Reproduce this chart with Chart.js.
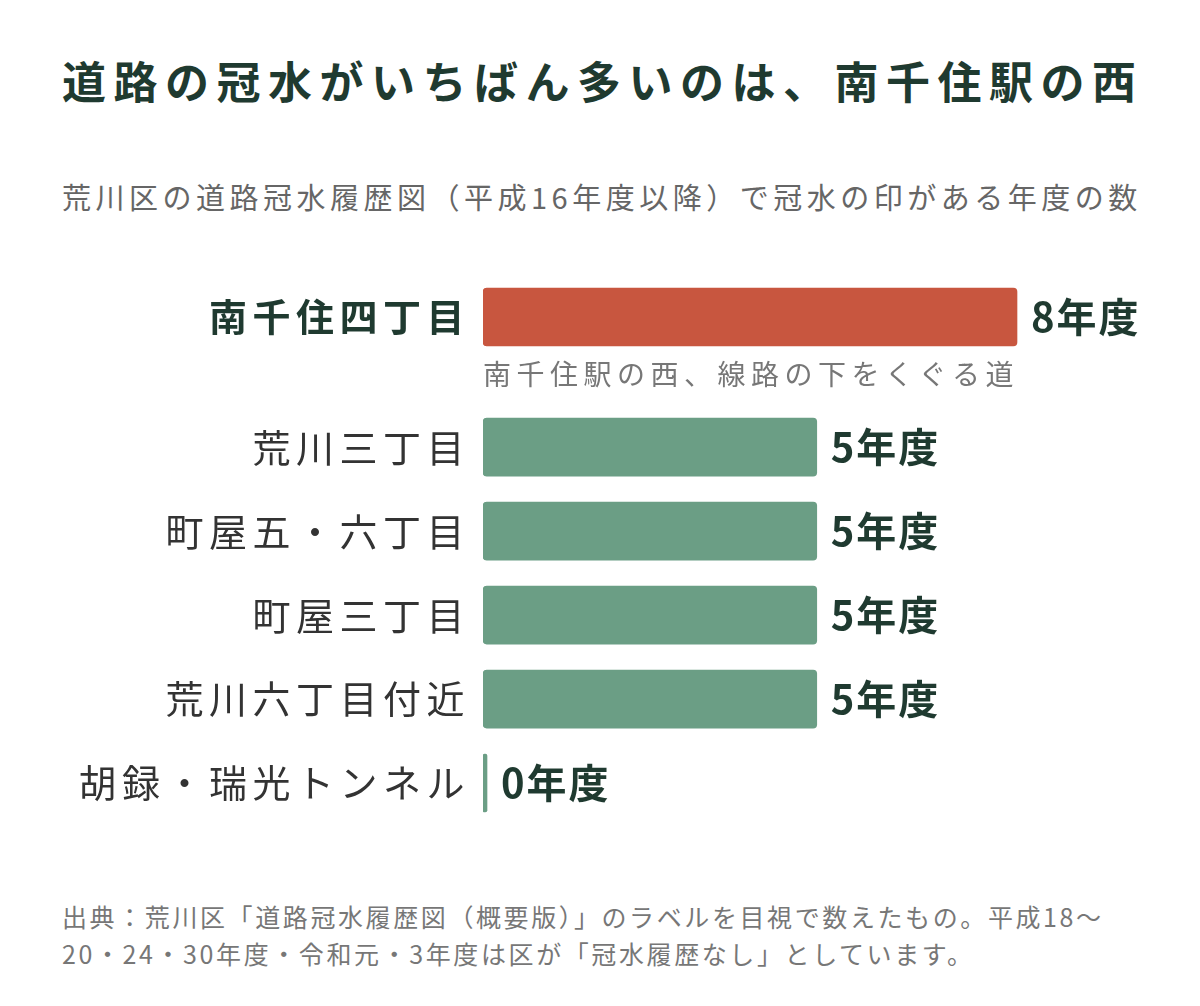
<!DOCTYPE html>
<html><head><meta charset="utf-8">
<script src="https://cdn.jsdelivr.net/npm/chart.js@4"></script>
<style>
body{margin:0;width:1200px;height:1006px;background:#fff;font-family:"Noto Sans CJK JP";position:relative;overflow:hidden}
#t{position:absolute;left:62px;top:50px;width:1100px;font-size:44px;letter-spacing:7.5px;font-weight:bold;line-height:61px;color:#1f3a30}
#s{position:absolute;left:62px;top:174px;width:1080px;font-size:29px;letter-spacing:4.5px;line-height:44px;color:#666}
#f{position:absolute;left:62px;top:898px;width:1100px;font-size:25px;letter-spacing:2.6px;line-height:37px;color:#777}
#c{position:absolute;left:0;top:275px}
</style></head><body>
<div id="t">道路の冠水がいちばん多いのは、南千住駅の西</div>
<div id="s">荒川区の道路冠水履歴図（平成16年度以降）で冠水の印がある年度の数</div>
<div id="f">出典：荒川区「道路冠水履歴図（概要版）」のラベルを目視で数えたもの。平成18〜20・24・30年度・令和元・3年度は区が「冠水履歴なし」としています。</div>
<canvas id="c" width="1200" height="550"></canvas>
<script>
const categories=["南千住四丁目","荒川三丁目","町屋五・六丁目","町屋三丁目","荒川六丁目付近","胡録・瑞光トンネル"];
const values=[8,5,5,5,5,0];
const notes=["南千住駅の西、線路の下をくぐる道","","","","","国の一覧にある南千住八丁目の2本"];
const highlight=[true,false,false,false,false,false];
const rowPos=i=>i===0?0:i+0.55;
const F='"Noto Sans CJK JP"';
const labelPlugin={id:'lbl',afterDatasetsDraw(ch){
 const c=ch.ctx,x=ch.scales.x,y=ch.scales.y;
 c.save();c.textBaseline='middle';
 categories.forEach((cat,i)=>{
  const py=y.getPixelForValue(rowPos(i));
  c.textAlign='right';c.fillStyle=highlight[i]?'#1f3a30':'#333';
  c.letterSpacing='5.5px';
  c.font=(highlight[i]?'bold ':'')+'38px '+F;
  c.fillText(cat,x.left-13,py);
  c.textAlign='left';c.fillStyle='#1f3a30';c.font='bold 40px '+F;c.letterSpacing='2px';
  const ex=Math.max(x.getPixelForValue(values[i]),x.left+4);
  c.fillText(values[i]+'年度',ex+14,py);
  if(notes[i]){c.font='28px '+F;c.letterSpacing='5.5px';c.fillStyle='#777';c.fillText(notes[i],x.left,py+57);}
 });
 c.restore();}};
new Chart(document.getElementById('c'),{type:'bar',
 data:{datasets:[{data:values.map((v,i)=>({x:v,y:rowPos(i)})),
  backgroundColor:highlight.map(h=>h?'#c8563f':'#6b9e85'),
  barThickness:58,minBarLength:4,borderRadius:4,borderSkipped:false}]},
 options:{indexAxis:'y',responsive:false,animation:false,
  layout:{padding:{left:483,right:49.5,top:0,bottom:0}},
  plugins:{legend:{display:false},tooltip:{enabled:false}},
  scales:{x:{type:'linear',min:0,max:10,display:false},
          y:{type:'linear',min:-0.5,max:6.05,reverse:true,offset:false,display:false}}},
 plugins:[labelPlugin]});
</script></body></html>
